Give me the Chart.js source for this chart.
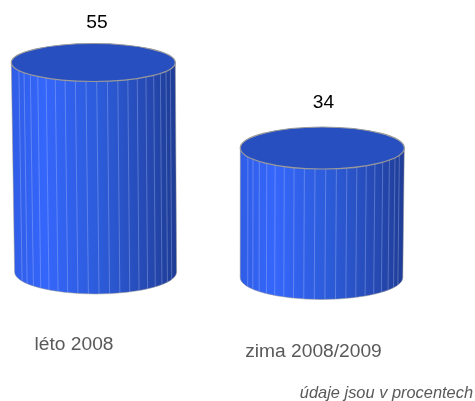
<!DOCTYPE html>
<html>
<head>
<meta charset="utf-8">
<script src="https://cdn.jsdelivr.net/npm/chart.js@4"></script>
<style>
    html, body { margin: 0; padding: 0; background: #fff; }
    canvas { display: block; }
</style>
</head>
<body>
<canvas id="cylinderChart" width="475" height="401"></canvas>
<script>
const categories = ['léto 2008', 'zima 2008/2009'];
const values = [55, 34];
const note = 'údaje jsou v procentech';

// each cylinder sits a bit differently in the original drawing
const cylinderLook = [
    { dy: 0, topRx: 82, topRy: 19, topDx: -0.7, botRx: 81, botRy: 22, botDx: 1.6, valueDx: 3, valueY: 22, labelX: 74, labelY: 344 },
    { dy: 5.5, topRx: 82, topRy: 21, topDx: 0.3, botRx: 81.3, botRy: 22, botDx: -0.5, valueDx: 1.5, valueY: 102, labelX: 313.5, labelY: 351 }
];

const cylinderPlugin = {
    id: 'cylinders',
    afterDatasetsDraw(chart) {
        const ctx = chart.ctx;
        const meta = chart.getDatasetMeta(0);

        meta.data.forEach((bar, i) => {
            const look = cylinderLook[i];
            const topX = bar.x + look.topDx;
            const topY = bar.y + look.dy;
            const botX = bar.x + look.botDx;
            const botY = bar.base + look.dy;

            const grad = ctx.createLinearGradient(topX - look.topRx, 0, topX + look.topRx, 0);
            grad.addColorStop(0, '#2f5de6');
            grad.addColorStop(0.2, '#3566fb');
            grad.addColorStop(0.55, '#2c5bd8');
            grad.addColorStop(0.85, '#2548b0');
            grad.addColorStop(1, '#1f3d96');

            ctx.save();
            ctx.beginPath();
            ctx.moveTo(topX - look.topRx, topY);
            ctx.lineTo(botX - look.botRx, botY);
            ctx.ellipse(botX, botY, look.botRx, look.botRy, 0, Math.PI, 0, true);
            ctx.lineTo(topX + look.topRx, topY);
            ctx.closePath();
            ctx.fillStyle = grad;
            ctx.fill();

            // the facets of the body
            ctx.save();
            ctx.clip();
            ctx.lineWidth = 1;
            ctx.strokeStyle = 'rgba(205,218,255,0.3)';
            for (let a = 0.35; a < 2.8; a += 0.131) {
                const x1 = topX + look.topRx * Math.cos(a);
                const y1 = topY + look.topRy * Math.sin(a);
                const x2 = botX + look.botRx * Math.cos(a);
                const y2 = botY + look.botRy * Math.sin(a);
                ctx.beginPath();
                ctx.moveTo(x1, y1);
                ctx.lineTo(x2, y2);
                ctx.stroke();
            }
            ctx.restore();

            // rim of the body
            ctx.strokeStyle = 'rgba(150,150,150,0.5)';
            ctx.lineWidth = 1;
            ctx.beginPath();
            ctx.moveTo(topX - look.topRx, topY);
            ctx.lineTo(botX - look.botRx, botY);
            ctx.ellipse(botX, botY, look.botRx, look.botRy, 0, Math.PI, 0, true);
            ctx.lineTo(topX + look.topRx, topY);
            ctx.stroke();

            // lid
            ctx.beginPath();
            ctx.ellipse(topX, topY, look.topRx, look.topRy, 0, 0, Math.PI * 2);
            ctx.fillStyle = '#274fc0';
            ctx.fill();
            ctx.strokeStyle = '#9a9a9a';
            ctx.lineWidth = 1.2;
            ctx.stroke();
            ctx.restore();

            // value above, category below
            ctx.save();
            ctx.textAlign = 'center';
            ctx.textBaseline = 'alphabetic';
            ctx.font = '19.2px "Liberation Sans", Arial, sans-serif';
            ctx.fillStyle = '#000000';
            ctx.fillText(String(values[i]), bar.x + look.valueDx, look.valueY + 6);
            ctx.fillStyle = '#595959';
            ctx.fillText(categories[i], look.labelX, look.labelY + 6);
            ctx.restore();
        });

        ctx.save();
        ctx.textAlign = 'right';
        ctx.font = 'italic 16.4px "Liberation Sans", Arial, sans-serif';
        ctx.fillStyle = '#595959';
        ctx.fillText(note, 473, 398);
        ctx.restore();
    }
};

new Chart(document.getElementById('cylinderChart'), {
    type: 'bar',
    data: {
        labels: categories,
        datasets: [{
            data: values,
            backgroundColor: 'rgba(0,0,0,0)',
            barThickness: 164
        }]
    },
    options: {
        responsive: false,
        animation: false,
        layout: { padding: { left: 94, right: 153, top: 62.5, bottom: 129 } },
        plugins: {
            legend: { display: false },
            tooltip: { enabled: false }
        },
        scales: {
            x: { display: false, offset: false },
            y: { display: false, min: 0, max: 55 }
        }
    },
    plugins: [cylinderPlugin]
});
</script>
</body>
</html>
